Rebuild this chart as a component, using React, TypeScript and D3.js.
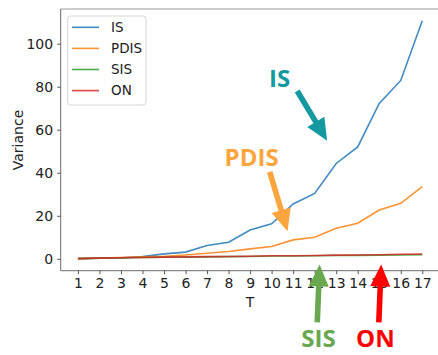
import React, { useEffect, useRef } from "react";
import * as d3 from "d3";

const steps = d3.range(1, 18);
const isValues = [0.1, 0.3, 0.5, 1.0, 2.3, 3.1, 6.2, 7.7, 13.4, 16.3, 25.5, 30.4, 44.3, 52, 72.2, 82.9, 110.6];
const pdisValues = [0.1, 0.4, 0.6, 0.9, 1.2, 1.8, 2.6, 3.4, 4.6, 5.7, 8.8, 10.0, 14.2, 16.5, 22.7, 25.8, 33.5];
const sisValues = [0.1, 0.3, 0.4, 0.6, 0.7, 0.8, 0.9, 1.0, 1.1, 1.3, 1.3, 1.4, 1.5, 1.6, 1.7, 1.8, 1.9];
const onValues = [0.1, 0.3, 0.5, 0.6, 0.8, 0.9, 1.0, 1.1, 1.2, 1.4, 1.4, 1.5, 1.7, 1.8, 1.9, 2.1, 2.2];
const seriesNames = ["IS", "PDIS", "SIS", "ON"];
const seriesColors = ["#1f77b4", "#ff7f0e", "#2ca02c", "#d62728"];
const yTicks = [0, 20, 40, 60, 80, 100];

// callouts, in data units
const callouts = [
  { label: "IS", color: "#13999f", tx: 10.37, ty: 80, from: [11.19, 78], to: [12.58, 54.9] },
  { label: "PDIS", color: "#fba53f", tx: 9.07, ty: 42.9, from: [9.91, 40.4], to: [10.74, 12.8] },
  { label: "SIS", color: "#6aa84f", tx: 12.18, ty: -41.2, from: [12.12, -29.5], to: [12.23, -2.6] },
  { label: "ON", color: "#ff0000", tx: 14.82, ty: -41.2, from: [14.98, -29.5], to: [15.09, -2.6] },
];

export default function App() {
  const ref = useRef<SVGSVGElement | null>(null);

  useEffect(() => {
    document.body.style.margin = "0";
    const svg = d3.select(ref.current);
    svg.selectAll("*").remove();

    const x = d3.scaleLinear().domain([0.2, 17.8]).range([60.7, 439.5]);
    const y = d3.scaleLinear().domain([-5.53, 116.1]).range([270.7, 9]);
    const font = "'DejaVu Sans', sans-serif";

    // spines
    const sp = svg.append("g").attr("stroke", "#6b6b6b").attr("stroke-width", 1).attr("fill", "none");
    sp.append("line").attr("x1", x.range()[0]).attr("x2", x.range()[1]).attr("y1", 9).attr("y2", 9).attr("stroke", "#999");
    sp.append("line").attr("x1", x.range()[0]).attr("x2", x.range()[1]).attr("y1", 270.7).attr("y2", 270.7);
    sp.append("line").attr("x1", 60.7).attr("x2", 60.7).attr("y1", 9).attr("y2", 270.7);

    // axes
    const xAxis = svg
      .append("g")
      .attr("transform", "translate(0,270.7)")
      .call(d3.axisBottom(x).tickValues(steps).tickFormat(d3.format("d")).tickSize(3.5).tickPadding(4));
    xAxis.select(".domain").remove();
    xAxis.selectAll("line").attr("stroke", "#555");
    xAxis.selectAll("text").attr("font-family", font).attr("font-size", 14).attr("fill", "#222");

    const yAxis = svg
      .append("g")
      .attr("transform", "translate(60.7,0)")
      .call(d3.axisLeft(y).tickValues(yTicks).tickSize(3.5).tickPadding(4));
    yAxis.select(".domain").remove();
    yAxis.selectAll("line").attr("stroke", "#555");
    yAxis.selectAll("text").attr("font-family", font).attr("font-size", 14).attr("fill", "#222");

    svg
      .append("text")
      .attr("x", x(9))
      .attr("y", 307)
      .attr("text-anchor", "middle")
      .attr("font-family", font)
      .attr("font-size", 14)
      .attr("fill", "#222")
      .text("T");

    svg
      .append("text")
      .attr("transform", `translate(23,140) rotate(-90)`)
      .attr("text-anchor", "middle")
      .attr("font-family", font)
      .attr("font-size", 14)
      .attr("fill", "#222")
      .text("Variance");

    // lines
    const all = [isValues, pdisValues, sisValues, onValues];
    const line = d3
      .line<number>()
      .x((_, i) => x(steps[i]))
      .y((d) => y(d));
    all.forEach((vals, i) => {
      svg
        .append("path")
        .attr("d", line(vals))
        .attr("fill", "none")
        .attr("stroke", seriesColors[i])
        .attr("stroke-opacity", 0.85)
        .attr("stroke-width", 1.6);
    });

    // legend
    const lg = svg.append("g");
    lg.append("rect")
      .attr("x", 67.7)
      .attr("y", 16)
      .attr("width", 78.3)
      .attr("height", 89)
      .attr("rx", 3)
      .attr("fill", "white")
      .attr("fill-opacity", 0.8)
      .attr("stroke", "#d6d6d6");
    seriesNames.forEach((name, i) => {
      const ly = 27.3 + i * 21.1;
      lg.append("line")
        .attr("x1", 72)
        .attr("x2", 99)
        .attr("y1", ly)
        .attr("y2", ly)
        .attr("stroke", seriesColors[i])
        .attr("stroke-opacity", 0.85)
        .attr("stroke-width", 1.6);
      lg.append("text")
        .attr("x", 111)
        .attr("y", ly)
        .attr("dy", "0.36em")
        .attr("font-family", font)
        .attr("font-size", 13.5)
        .attr("fill", "#222")
        .text(name);
    });

    // callout arrows and labels
    const arrow = (x1: number, y1: number, x2: number, y2: number) => {
      const dx = x2 - x1;
      const dy = y2 - y1;
      const len = Math.hypot(dx, dy);
      const ux = dx / len;
      const uy = dy / len;
      const px = -uy;
      const py = ux;
      const head = 22;
      const hw = 10;
      const sw = 2.8;
      const bx = x2 - ux * head;
      const by = y2 - uy * head;
      const pts = [
        [x1 + px * sw, y1 + py * sw],
        [bx + px * sw, by + py * sw],
        [bx + px * hw, by + py * hw],
        [x2, y2],
        [bx - px * hw, by - py * hw],
        [bx - px * sw, by - py * sw],
        [x1 - px * sw, y1 - py * sw],
      ];
      return "M" + pts.map((p) => p.join(",")).join("L") + "Z";
    };
    callouts.forEach((c) => {
      svg
        .append("path")
        .attr("d", arrow(x(c.from[0]), y(c.from[1]), x(c.to[0]), y(c.to[1])))
        .attr("fill", c.color);
      svg
        .append("text")
        .attr("x", x(c.tx))
        .attr("y", y(c.ty))
        .attr("text-anchor", "middle")
        .attr("font-family", "'Open Sans', sans-serif")
        .attr("font-weight", "bold")
        .attr("font-size", 24)
        .attr("fill", c.color)
        .text(c.label);
    });
  }, []);

  return <svg ref={ref} width={438} height={355} style={{ display: "block" }}></svg>;
}
